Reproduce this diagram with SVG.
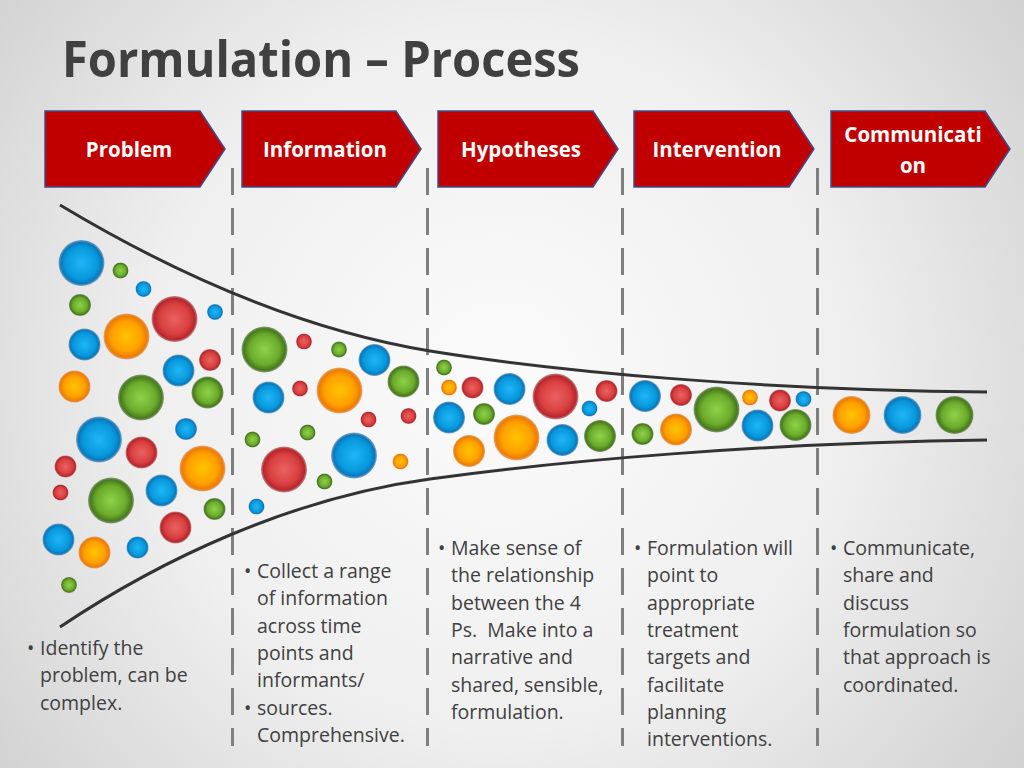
<svg xmlns="http://www.w3.org/2000/svg" width="1024" height="768" viewBox="0 0 1024 768">
<defs>
<radialGradient id="bg" cx="500" cy="380" r="640" gradientUnits="userSpaceOnUse">
<stop offset="0" stop-color="#fbfbfb"/><stop offset="0.55" stop-color="#efefef"/><stop offset="1" stop-color="#d2d2d2"/>
</radialGradient>
<radialGradient id="gB" cx="0.5" cy="0.5" r="0.5"><stop offset="0" stop-color="#1fb6f6"/><stop offset="0.7" stop-color="#0898dc"/><stop offset="0.9" stop-color="#0a78bd"/><stop offset="1" stop-color="#3a76a4" stop-opacity="0.6"/></radialGradient>
<radialGradient id="gG" cx="0.5" cy="0.5" r="0.5"><stop offset="0" stop-color="#8fd24a"/><stop offset="0.65" stop-color="#6cab2c"/><stop offset="0.9" stop-color="#467a1c"/><stop offset="1" stop-color="#4c6a34" stop-opacity="0.6"/></radialGradient>
<radialGradient id="gO" cx="0.5" cy="0.5" r="0.5"><stop offset="0" stop-color="#ffc400"/><stop offset="0.65" stop-color="#ffa000"/><stop offset="0.9" stop-color="#ee7c00"/><stop offset="1" stop-color="#d87a30" stop-opacity="0.6"/></radialGradient>
<radialGradient id="gR" cx="0.5" cy="0.5" r="0.5"><stop offset="0" stop-color="#ea6262"/><stop offset="0.65" stop-color="#d94040"/><stop offset="0.9" stop-color="#b8262c"/><stop offset="1" stop-color="#a04848" stop-opacity="0.6"/></radialGradient>
<style>
.b{fill:url(#gB)}.g{fill:url(#gG)}.o{fill:url(#gO)}.r{fill:url(#gR)}
.arrow{fill:#c00000;stroke:#3c4f8a;stroke-width:1.5}
.lbl{font-family:"Open Sans","Liberation Sans",sans-serif;font-weight:bold;font-size:20.5px;fill:#ffffff;text-anchor:middle}
.txt{font-family:"Open Sans","Liberation Sans",sans-serif;font-size:19.5px;fill:#404040}
.dash{stroke:#7f7f7f;stroke-width:3;stroke-dasharray:27 13;fill:none}
.curve{stroke:#333333;stroke-width:3;fill:none}
</style>
</defs>
<rect width="1024" height="768" fill="url(#bg)"/>
<text x="62" y="77" font-family="'Open Sans','Liberation Sans',sans-serif" font-weight="bold" font-size="50" fill="#404040" textLength="518" lengthAdjust="spacingAndGlyphs">Formulation – Process</text>

<g id="separators">
<line class="dash" x1="232.5" y1="168" x2="232.5" y2="746"/>
<line class="dash" x1="427.5" y1="168" x2="427.5" y2="746"/>
<line class="dash" x1="622.5" y1="168" x2="622.5" y2="746"/>
<line class="dash" x1="817.5" y1="168" x2="817.5" y2="746"/>
</g>

<g id="funnel">
<path class="curve" d="M60,205 C160,265 290,328 430,351 C560,372 760,390 987,392"/>
<path class="curve" d="M60,627 C160,560 290,498 430,479 C560,461 760,443 987,440"/>
</g>

<g id="bubbles">
<circle class="b" cx="81.5" cy="263" r="23"/>
<circle class="g" cx="120.5" cy="270.5" r="8"/>
<circle class="b" cx="143.5" cy="289" r="8"/>
<circle class="g" cx="80" cy="305" r="11"/>
<circle class="r" cx="174.5" cy="319" r="23"/>
<circle class="b" cx="215" cy="312" r="8"/>
<circle class="o" cx="126.5" cy="336.5" r="23"/>
<circle class="b" cx="84.5" cy="344.5" r="16"/>
<circle class="r" cx="210" cy="360" r="11"/>
<circle class="b" cx="178.5" cy="370.5" r="16"/>
<circle class="o" cx="74.5" cy="386.5" r="16"/>
<circle class="g" cx="141" cy="397.5" r="23"/>
<circle class="g" cx="207.5" cy="392.5" r="16"/>
<circle class="b" cx="186" cy="429" r="11"/>
<circle class="b" cx="99" cy="439.5" r="23"/>
<circle class="r" cx="141.5" cy="452.5" r="16"/>
<circle class="o" cx="202.5" cy="468.5" r="23"/>
<circle class="r" cx="65.5" cy="466.5" r="11"/>
<circle class="r" cx="60.5" cy="492.5" r="8"/>
<circle class="g" cx="111" cy="500.5" r="23"/>
<circle class="b" cx="161.5" cy="490.5" r="16"/>
<circle class="g" cx="214.5" cy="509" r="11"/>
<circle class="r" cx="175.5" cy="527.5" r="16"/>
<circle class="b" cx="58.5" cy="539.5" r="16"/>
<circle class="o" cx="94.5" cy="552.5" r="16"/>
<circle class="b" cx="137.5" cy="547.5" r="11"/>
<circle class="g" cx="69" cy="585" r="8"/>

<circle class="g" cx="264.5" cy="349.5" r="23"/>
<circle class="r" cx="304" cy="341.5" r="8"/>
<circle class="g" cx="339" cy="349.5" r="8"/>
<circle class="b" cx="374.5" cy="360" r="16"/>
<circle class="g" cx="403.5" cy="381.5" r="16"/>
<circle class="b" cx="268.5" cy="397.5" r="16"/>
<circle class="r" cx="300" cy="388.5" r="8"/>
<circle class="o" cx="339.5" cy="390.5" r="23"/>
<circle class="r" cx="368.5" cy="419.5" r="8"/>
<circle class="r" cx="408.5" cy="416" r="8"/>
<circle class="g" cx="252.5" cy="439.5" r="8"/>
<circle class="g" cx="307.5" cy="432.5" r="8"/>
<circle class="r" cx="284" cy="469.5" r="23"/>
<circle class="b" cx="354" cy="455.5" r="23"/>
<circle class="o" cx="400.5" cy="461.5" r="8"/>
<circle class="g" cx="324.5" cy="481.5" r="8"/>
<circle class="b" cx="256.5" cy="506.5" r="8"/>

<circle class="g" cx="444" cy="367.5" r="8"/>
<circle class="o" cx="449" cy="387.5" r="8"/>
<circle class="r" cx="472.5" cy="387.5" r="11"/>
<circle class="b" cx="509.5" cy="389" r="16"/>
<circle class="r" cx="555.5" cy="396.5" r="23"/>
<circle class="r" cx="606.5" cy="391" r="11"/>
<circle class="b" cx="589.5" cy="408.5" r="8"/>
<circle class="b" cx="449" cy="417.5" r="16"/>
<circle class="g" cx="484" cy="414" r="11"/>
<circle class="o" cx="469" cy="451" r="16"/>
<circle class="o" cx="516.5" cy="437.5" r="23"/>
<circle class="b" cx="562.5" cy="440" r="16"/>
<circle class="g" cx="600" cy="436" r="16"/>

<circle class="b" cx="645" cy="396" r="16"/>
<circle class="r" cx="681" cy="395" r="11"/>
<circle class="g" cx="716.5" cy="409.5" r="23"/>
<circle class="o" cx="750" cy="397.5" r="8"/>
<circle class="r" cx="780" cy="400.5" r="11"/>
<circle class="b" cx="803.5" cy="399" r="8"/>
<circle class="g" cx="642.5" cy="434" r="11"/>
<circle class="o" cx="676" cy="429.5" r="16"/>
<circle class="b" cx="757.5" cy="425.5" r="16"/>
<circle class="g" cx="795.5" cy="425" r="16"/>

<circle class="o" cx="851.5" cy="415" r="19"/>
<circle class="b" cx="902.5" cy="415" r="19"/>
<circle class="g" cx="954.5" cy="415" r="19"/>
</g>

<g id="step-problem">
<polygon class="arrow" points="45,111 200,111 225,149 200,187 45,187"/>
<text class="lbl" x="129" y="157">Problem</text>
</g>
<g id="step-information">
<polygon class="arrow" points="242,111 396,111 421,149 396,187 242,187"/>
<text class="lbl" x="325" y="157">Information</text>
</g>
<g id="step-hypotheses">
<polygon class="arrow" points="438,111 593,111 618,149 593,187 438,187"/>
<text class="lbl" x="521" y="157">Hypotheses</text>
</g>
<g id="step-intervention">
<polygon class="arrow" points="634,111 789,111 814,149 789,187 634,187"/>
<text class="lbl" x="717" y="157">Intervention</text>
</g>
<g id="step-communication">
<polygon class="arrow" points="831,111 985,111 1010,149 985,187 831,187"/>
<text class="lbl" x="913" y="142">Communicati</text>
<text class="lbl" x="913" y="173">on</text>
</g>

<g id="desc-problem" class="txt">
<text x="27" y="655">•</text>
<text x="40" y="655">Identify the</text>
<text x="40" y="682.3">problem, can be</text>
<text x="40" y="709.6">complex.</text>
</g>
<g id="desc-information" class="txt">
<text x="244" y="578">•</text>
<text x="257" y="578">Collect a range</text>
<text x="257" y="605.3">of information</text>
<text x="257" y="632.6">across time</text>
<text x="257" y="659.9">points and</text>
<text x="257" y="687.2">informants/</text>
<text x="244" y="714.5">•</text>
<text x="257" y="714.5">sources.</text>
<text x="257" y="741.8">Comprehensive.</text>
</g>
<g id="desc-hypotheses" class="txt">
<text x="438" y="555">•</text>
<text x="451" y="555">Make sense of</text>
<text x="451" y="582.3">the relationship</text>
<text x="451" y="609.6">between the 4</text>
<text x="451" y="636.9" xml:space="preserve">Ps.  Make into a</text>
<text x="451" y="664.2">narrative and</text>
<text x="451" y="691.5">shared, sensible,</text>
<text x="451" y="718.8">formulation.</text>
</g>
<g id="desc-intervention" class="txt">
<text x="634" y="555">•</text>
<text x="647" y="555">Formulation will</text>
<text x="647" y="582.3">point to</text>
<text x="647" y="609.6">appropriate</text>
<text x="647" y="636.9">treatment</text>
<text x="647" y="664.2">targets and</text>
<text x="647" y="691.5">facilitate</text>
<text x="647" y="718.8">planning</text>
<text x="647" y="746.1">interventions.</text>
</g>
<g id="desc-communication" class="txt">
<text x="830" y="555">•</text>
<text x="843" y="555">Communicate,</text>
<text x="843" y="582.3">share and</text>
<text x="843" y="609.6">discuss</text>
<text x="843" y="636.9">formulation so</text>
<text x="843" y="664.2">that approach is</text>
<text x="843" y="691.5">coordinated.</text>
</g>
</svg>
